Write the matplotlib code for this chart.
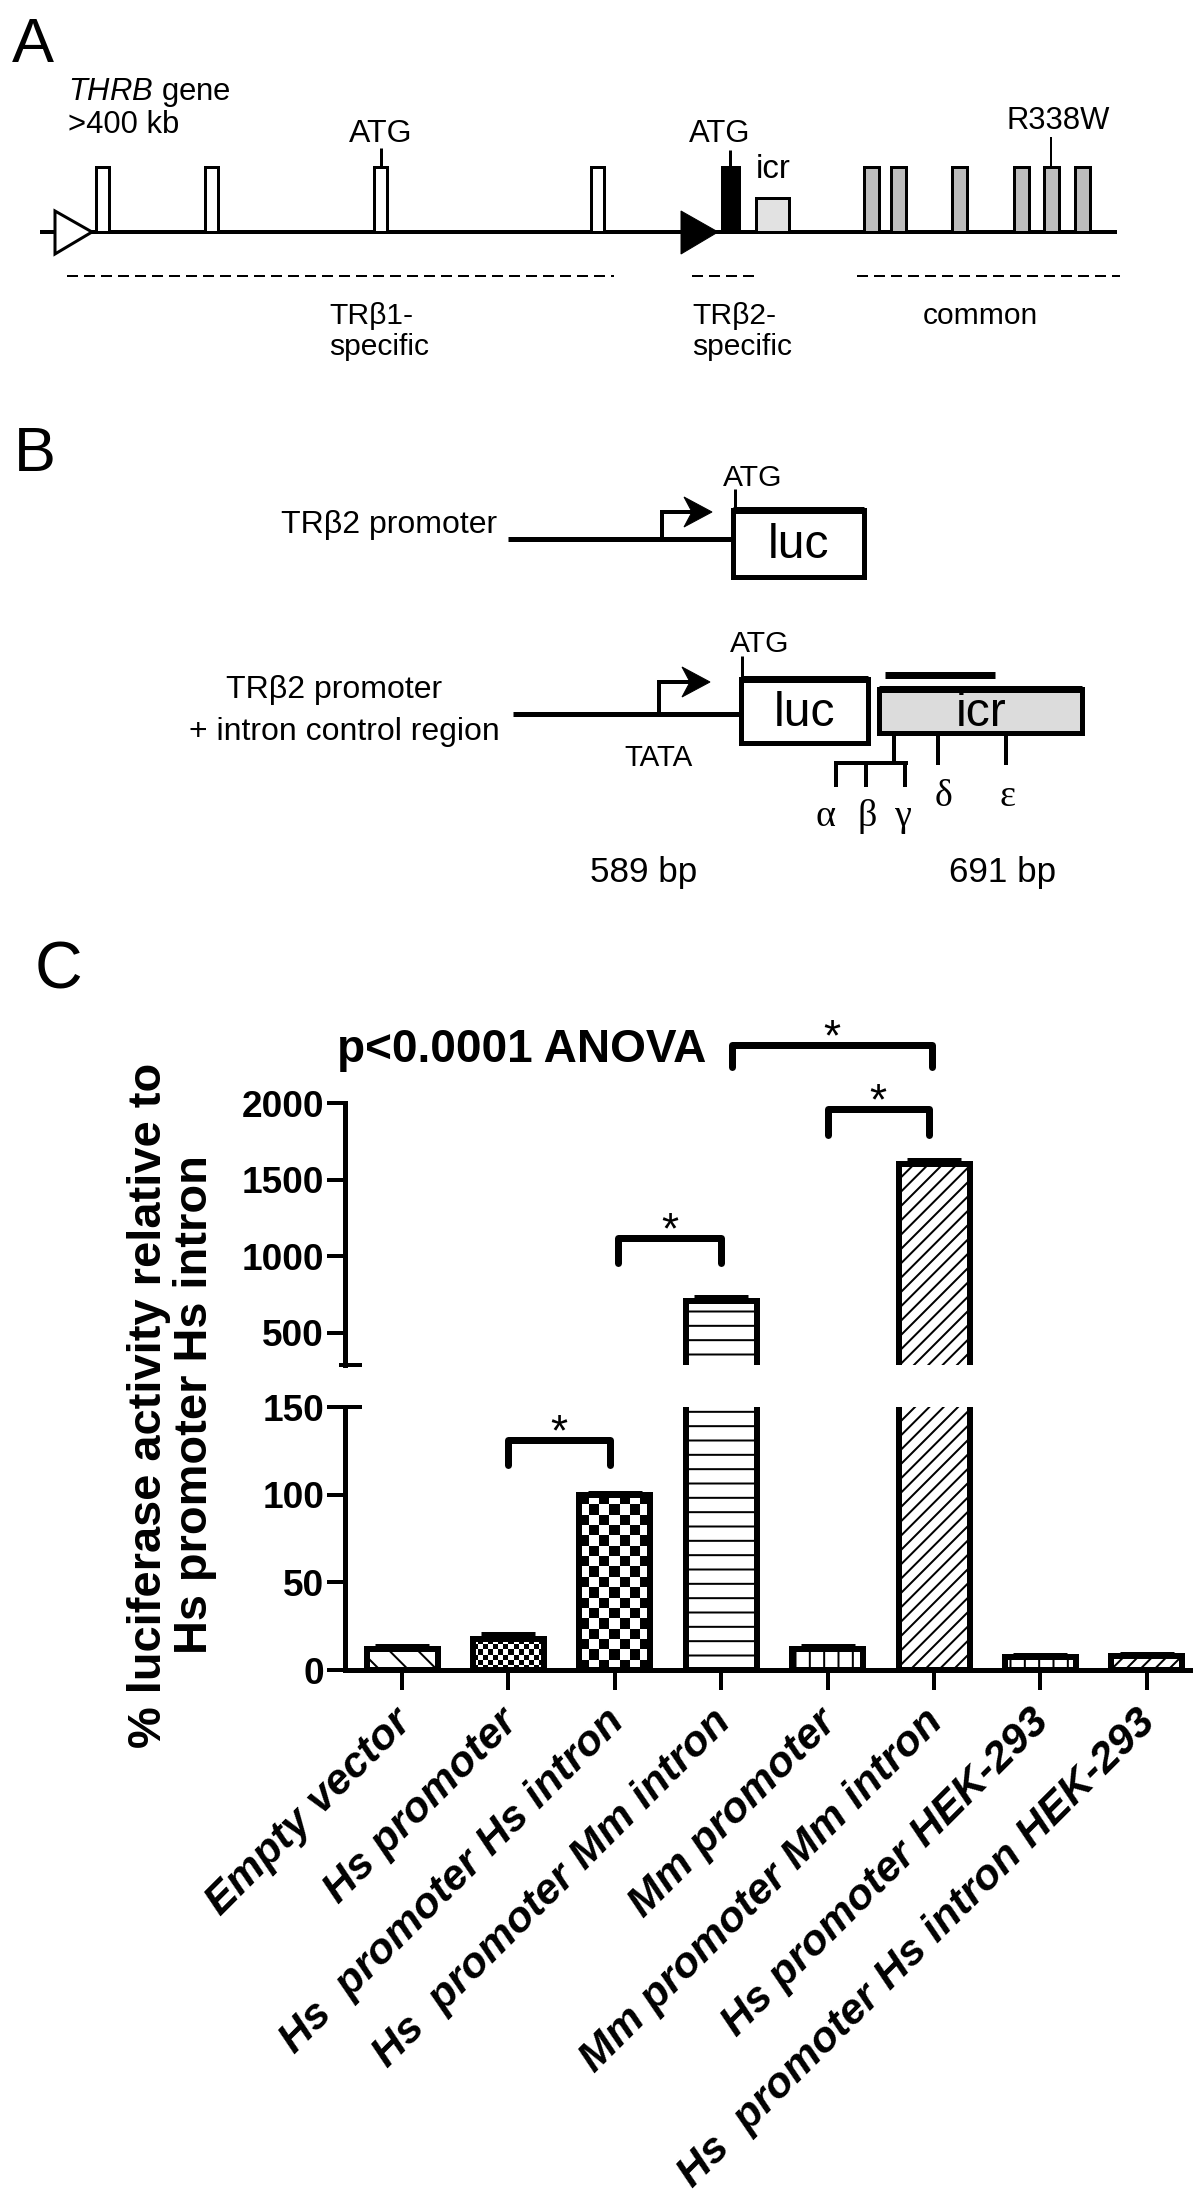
import numpy as np
import matplotlib
matplotlib.use("Agg")
import matplotlib.pyplot as plt
from matplotlib.patches import Rectangle, Polygon
from matplotlib.transforms import ScaledTranslation

DPI = 86          # hatch spacing follows the dpi; 86 gives ~14 px like the original
W, H = 1200, 2202


def pt(px):
    """size in canvas pixels -> points"""
    return px * 72.0 / DPI


plt.rcParams["font.family"] = ["Liberation Sans", "DejaVu Sans"]
plt.rcParams["mathtext.fontset"] = "custom"
plt.rcParams["mathtext.it"] = "Liberation Sans:italic"
plt.rcParams["mathtext.rm"] = "Liberation Sans"
plt.rcParams["hatch.linewidth"] = pt(2)
plt.rcParams["lines.scale_dashes"] = False

# ---------------------------------------------------------------------------
# Panel C data: luciferase activity, % of Hs promoter + Hs intron
# ---------------------------------------------------------------------------
conditions = ["Empty vector", "Hs promoter", "Hs  promoter Hs intron",
              "Hs  promoter Mm intron", "Mm promoter", "Mm promoter Mm intron",
              "Hs promoter HEK-293", "Hs  promoter Hs intron HEK-293"]
activity     = [11.8, 17.5, 100, 710, 12, 1600, 7.5, 8]
activity_err = [1.7, 3.0, 0.8, 25, 1.5, 30, 1.0, 1.0]
fills = ["\\", "fine", "checker", "-", "|", "//", "|", "//"]

# significance brackets (bar index span, bracket height, leg end)
sig_x   = [(1.0, 1.95), (2.03, 3.0), (4.0, 4.95), (3.1, 4.98)]
sig_top = [131, 1119, 1961, 2378]
sig_leg = [117, 956, 1791, 2235]

# ---------------------------------------------------------------------------
# Panel A / B schematic layout (canvas pixels)
# ---------------------------------------------------------------------------
tr1_exons = [96, 205, 374, 591]
common_exons = [864, 891, 952, 1014, 1044, 1075]
region_dashes = [(67, 614), (692, 759), (857, 1120)]
region_labels = [(329, "TR\u03b21-"), (692, "TR\u03b22-"), (923, "common")]

greek = ["\u03b1", "\u03b2", "\u03b3", "\u03b4", "\u03b5"]
greek_xy = [(825, 826), (867, 826), (903, 826), (943, 806), (1007, 806)]

fig = plt.figure(figsize=((W + 0.01) / DPI, (H + 0.01) / DPI), dpi=DPI)
ov = fig.add_axes([0, 0, 1, 1])
ov.set_xlim(0, W)
ov.set_ylim(H, 0)
ov.axis("off")


def seg(xs, ys, lw=4, **kw):
    ov.plot(xs, ys, color="k", lw=pt(lw), solid_capstyle="butt", **kw)


# --- panel A: THRB gene -----------------------------------------------------
ov.text(12, 62, "A", fontsize=pt(63), va="baseline")
seg([40, 1117], [232, 232], lw=4, zorder=2)
ov.add_patch(Polygon([(55, 211), (55, 254), (92, 232)], closed=True,
                     fc="white", ec="k", lw=pt(3), zorder=3))
ov.add_patch(Polygon([(681, 211), (681, 254), (718, 232)], closed=True,
                     fc="k", ec="k", lw=pt(1), zorder=3))
for x0 in tr1_exons:
    ov.add_patch(Rectangle((x0, 167), 13, 65, fc="white", ec="k", lw=pt(3), zorder=3))
for x0 in common_exons:
    ov.add_patch(Rectangle((x0, 167), 15, 65, fc="#bdbdbd", ec="k", lw=pt(3), zorder=3))
ov.add_patch(Rectangle((722, 167), 17, 65, fc="k", ec="k", lw=pt(3), zorder=3))
ov.add_patch(Rectangle((756, 198), 33, 34, fc="#e2e2e2", ec="k", lw=pt(3), zorder=3))
seg([381, 381], [148, 167], lw=3)
seg([730, 730], [150, 167], lw=3)
seg([1051, 1051], [137, 167], lw=2)

ov.text(68, 100, r"$\mathit{THRB}$ gene", fontsize=pt(31), va="baseline")
ov.text(68, 133, ">400 kb", fontsize=pt(31), va="baseline")
ov.text(381, 142, "ATG", fontsize=pt(32), ha="center", va="baseline")
ov.text(720, 142, "ATG", fontsize=pt(31), ha="center", va="baseline")
ov.text(756, 178, "icr", fontsize=pt(33), va="baseline")
ov.text(1058, 129, "R338W", fontsize=pt(31), ha="center", va="baseline")

for xa, xb in region_dashes:
    ov.plot([xa, xb], [276, 276], color="k", lw=pt(2), dashes=(pt(11), pt(6)))
for x0, lab in region_labels:
    ov.text(x0, 324, lab, fontsize=pt(30), va="baseline")
ov.text(329, 355, "specific", fontsize=pt(30), va="baseline")
ov.text(692, 355, "specific", fontsize=pt(30), va="baseline")

# --- panel B: reporter constructs -------------------------------------------
ov.text(14, 471, "B", fontsize=pt(63), va="baseline")


def promoter_arrow(x, y_base, y_top, x_tip):
    seg([x, x], [y_base, y_top], lw=4)
    seg([x - 2, x_tip - 18], [y_top, y_top], lw=4)
    ov.add_patch(Polygon([(x_tip, y_top), (x_tip - 28, y_top - 15),
                          (x_tip - 20, y_top), (x_tip - 28, y_top + 15)],
                         closed=True, fc="k", ec="k", lw=pt(1), zorder=4))


# row 1: promoter only
ov.text(497, 525, "TR\u03b22 promoter", fontsize=pt(32), ha="right", va="center")
seg([508, 733], [539, 539], lw=5)
promoter_arrow(662, 539, 512, 712)
ov.text(753, 486, "ATG", fontsize=pt(30), ha="center", va="baseline")
seg([735, 735], [489, 510], lw=3)
ov.add_patch(Rectangle((733, 510), 131, 67, fc="white", ec="k", lw=pt(5), zorder=3))
seg([733, 864], [510, 510], lw=7, zorder=4)
ov.text(798, 545, "luc", fontsize=pt(48), ha="center", va="center", zorder=4)

# row 2: promoter + intron control region
ov.text(334, 690, "TR\u03b22 promoter", fontsize=pt(32), ha="center", va="center")
ov.text(344, 732, "+ intron control region", fontsize=pt(32), ha="center", va="center")
seg([513, 741], [714, 714], lw=5)
promoter_arrow(659, 714, 682, 710)
ov.text(658, 766, "TATA", fontsize=pt(29.5), ha="center", va="baseline")
ov.text(760, 652, "ATG", fontsize=pt(30), ha="center", va="baseline")
seg([742, 742], [656, 679], lw=3)
ov.add_patch(Rectangle((741, 679), 127, 64, fc="white", ec="k", lw=pt(5), zorder=3))
seg([741, 868], [679, 679], lw=7, zorder=4)
ov.text(804, 713, "luc", fontsize=pt(48), ha="center", va="center", zorder=4)
ov.add_patch(Rectangle((879, 689), 203, 44, fc="#dcdcdc", ec="k", lw=pt(5), zorder=3))
seg([879, 1082], [689, 689], lw=7, zorder=4)
ov.text(981, 713, "icr", fontsize=pt(48), ha="center", va="center", zorder=4)
seg([885, 995], [675, 675], lw=7)
seg([894, 894], [733, 765], lw=4)
seg([834, 908], [763, 763], lw=4)
for xt in (836, 866, 905):
    seg([xt, xt], [761, 787], lw=4)
seg([938, 938], [733, 765], lw=4)
seg([1006, 1006], [733, 765], lw=4)
for g, (gx, gy) in zip(greek, greek_xy):
    ov.text(gx, gy, g, fontsize=pt(38), family=["Liberation Serif", "DejaVu Serif"],
            ha="center", va="baseline")
ov.text(644, 882, "589 bp", fontsize=pt(35), ha="center", va="baseline")
ov.text(1003, 882, "691 bp", fontsize=pt(35), ha="center", va="baseline")

# --- panel C: broken-axis bar chart -----------------------------------------
ov.text(35, 988, "C", fontsize=pt(66), va="baseline")

left, right = 345, 1190
ax_lo = fig.add_axes([left / W, 1 - 1670 / H, (right - left) / W, 263 / H])
ax_hi = fig.add_axes([left / W, 1 - 1365 / H, (right - left) / W, 262 / H])
x = np.arange(len(conditions))

for ax in (ax_lo, ax_hi):
    ax.set_facecolor("none")
    bars = ax.bar(x, activity, width=0.667, color="white", edgecolor="k",
                  linewidth=pt(6), zorder=2)
    for b, f in zip(bars, fills):
        if f in ("fine", "checker"):
            b.set_facecolor("none")
        else:
            b.set_hatch(f)
    ax.errorbar(x, activity, yerr=[np.zeros(len(x)), activity_err], fmt="none",
                ecolor="k", elinewidth=pt(5), capsize=pt(27), capthick=pt(5), zorder=3)
    ax.set_xlim(-0.536, 7.406)
    for s in ("top", "right"):
        ax.spines[s].set_visible(False)
    ax.spines["left"].set_linewidth(pt(5))
    ax.tick_params(axis="y", length=pt(18), width=pt(4), pad=pt(3),
                   labelsize=pt(37))

ax_lo.set_ylim(0, 150)
ax_hi.set_ylim(291, 2000)
ax_lo.set_yticks([0, 50, 100, 150])
ax_hi.set_yticks([500, 1000, 1500, 2000])
for ax in (ax_lo, ax_hi):
    for lbl in ax.get_yticklabels():
        lbl.set_fontweight("bold")
ax_hi.spines["bottom"].set_visible(False)
ax_hi.set_xticks([])
ax_lo.spines["bottom"].set_linewidth(pt(5))
ax_lo.set_xticks(x)
ax_lo.tick_params(axis="x", length=pt(20), width=pt(4), pad=pt(26))
ax_lo.set_xticklabels(conditions, rotation=45, ha="right", va="center",
                      rotation_mode="anchor", fontsize=pt(43),
                      fontweight="bold", fontstyle="italic")
shift = ScaledTranslation(pt(3) / 72, 0, fig.dpi_scale_trans)
for lbl in ax_lo.get_xticklabels():
    lbl.set_transform(lbl.get_transform() + shift)

# break caps on the split axis
ax_lo.plot([0, 15 / (right - left)], [1, 1], color="k", lw=pt(4),
           transform=ax_lo.transAxes, clip_on=False)
ax_hi.plot([-4 / (right - left), 15 / (right - left)], [0, 0], color="k", lw=pt(4),
           transform=ax_hi.transAxes, clip_on=False)

# checkerboard fills, clipped to their bars
fig.canvas.draw()
for b, f in zip(ax_lo.patches, fills):
    if f not in ("fine", "checker"):
        continue
    cell = 5.2 if f == "fine" else 10.5
    x0, y0 = b.get_x(), b.get_y()
    x1, y1 = x0 + b.get_width(), y0 + b.get_height()
    p0 = ax_lo.transData.transform((x0, y0))
    p1 = ax_lo.transData.transform((x1, y1))
    ncol = max(1, int(round(abs(p1[0] - p0[0]) / cell)))
    nrow = max(1, int(round(abs(p1[1] - p0[1]) / cell)))
    board = np.add.outer(np.arange(nrow), np.arange(ncol)) % 2
    im = ax_lo.imshow(board, cmap="gray", extent=(x0, x1, y0, y1), origin="lower",
                      interpolation="nearest", aspect="auto", zorder=1.5)
    im.set_clip_path(b)
ax_lo.set_xlim(-0.536, 7.406)
ax_lo.set_ylim(0, 150)

# significance brackets
for (xa, xb), top, leg in zip(sig_x, sig_top, sig_leg):
    ax = ax_lo if top < 150 else ax_hi
    ax.plot([xa, xa, xb, xb], [leg, top, top, leg], color="k", lw=pt(7),
            solid_capstyle="round", solid_joinstyle="round", clip_on=False, zorder=5)
    ax.annotate("*", xy=((xa + xb) / 2, top), xytext=(0, -pt(5)),
                textcoords="offset points", ha="center", va="baseline",
                fontsize=pt(44), annotation_clip=False)

fig.text(337 / W, 1 - 1050 / H, "p<0.0001 ANOVA", fontsize=pt(46),
         fontweight="bold", va="center")
fig.text(172 / W, 1 - 1405 / H,
         "% luciferase activity relative to\nHs promoter Hs intron",
         rotation=90, ha="center", va="center", multialignment="center",
         fontsize=pt(47), fontweight="bold", linespacing=1.05)

fig.savefig("out.png", dpi=DPI, facecolor="white")
